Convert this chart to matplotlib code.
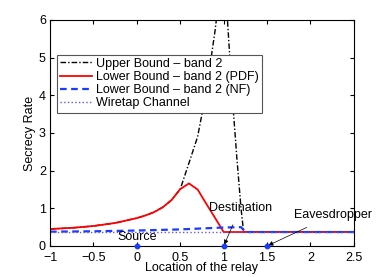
import matplotlib
matplotlib.use("Agg")
import matplotlib.pyplot as plt

plt.rcParams['font.family'] = ['Liberation Sans', 'DejaVu Sans']

# Lower bound (PDF)
x_pdf = [-1.0, -0.75, -0.5, -0.25, 0.0, 0.1, 0.2, 0.3, 0.4, 0.5, 0.6, 0.7, 0.8, 0.9, 1.0, 1.25, 1.5, 2.0, 2.5]
y_pdf = [0.45, 0.48, 0.53, 0.61, 0.74, 0.81, 0.9, 1.03, 1.22, 1.51, 1.66, 1.5, 1.12, 0.75, 0.37, 0.37, 0.37, 0.37, 0.37]

# Upper bound
x_ub = [-1.0, -0.75, -0.5, -0.25, 0.0, 0.1, 0.2, 0.3, 0.4, 0.5, 0.6, 0.7, 0.8, 0.9, 1.0, 1.1, 1.15, 1.2, 1.23, 1.5, 2.0, 2.5]
y_ub = [0.45, 0.48, 0.53, 0.61, 0.74, 0.81, 0.9, 1.03, 1.22, 1.51, 2.2, 2.9, 4.1, 5.7, 7.6, 3.95, 2.4, 1.0, 0.37, 0.37, 0.37, 0.37]

# Lower bound (NF)
x_nf = [-1.0, -0.5, 0.0, 0.5, 0.6, 1.0, 1.2, 1.25, 1.5, 2.0, 2.5]
y_nf = [0.38, 0.39, 0.41, 0.44, 0.45, 0.49, 0.5, 0.37, 0.37, 0.37, 0.37]

# Wiretap channel
x_wt = [-1.0, 2.5]
y_wt = [0.36, 0.36]

# Node positions
node_x = [0, 1, 1.5]
node_y = [0, 0, 0]

fig = plt.figure(figsize=(3.91, 2.77), dpi=100)
ax = fig.add_axes([0.128, 0.112, 0.777, 0.816])

ax.plot(x_ub, y_ub, color='black', linestyle='-.', linewidth=1.0, dashes=(4, 1.5, 1, 1.5), label='Upper Bound \u2013 band 2')
ax.plot(x_pdf, y_pdf, color='red', linestyle='-', linewidth=1.3, label='Lower Bound \u2013 band 2 (PDF)')
ax.plot(x_nf, y_nf, color='#1a3cff', linestyle='--', linewidth=1.6, dashes=(3, 2), label='Lower Bound \u2013 band 2 (NF)')
ax.plot(x_wt, y_wt, color='#6a5acd', linestyle=':', linewidth=1.0, label='Wiretap Channel')
ax.plot(node_x, node_y, 'o', color='#1a3cff', markersize=3.2, clip_on=False, zorder=5)

ax.set_xlim(-1, 2.5)
ax.set_ylim(0, 6)
ax.set_xticks([-1, -0.5, 0, 0.5, 1, 1.5, 2, 2.5])
ax.set_xticklabels(['\u22121', '\u22120.5', '0', '0.5', '1', '1.5', '2', '2.5'])
ax.set_yticks([0, 1, 2, 3, 4, 5, 6])
ax.tick_params(direction='in', top=True, right=True, labelsize=9, length=3)
ax.tick_params(axis='x', pad=4)
ax.tick_params(axis='y', pad=3)
for s in ax.spines.values():
    s.set_linewidth(0.8)

ax.set_xlabel('Location of the relay', fontsize=9, labelpad=-1)
ax.set_ylabel('Secrecy Rate', fontsize=9, labelpad=2)

ax.text(0, 0.24, 'Source', fontsize=9, ha='center', va='center')
ax.annotate('Destination', xy=(1, 0), xytext=(1.19, 1.0), fontsize=9, ha='center', va='center',
            arrowprops=dict(arrowstyle='-|>', color='black', lw=0.5, shrinkA=6, shrinkB=1, mutation_scale=7))
ax.annotate('Eavesdropper', xy=(1.5, 0), xytext=(2.26, 0.82), fontsize=9, ha='center', va='center',
            arrowprops=dict(arrowstyle='-|>', color='black', lw=0.5, shrinkA=6, shrinkB=1, mutation_scale=7))

leg = ax.legend(loc='upper left', bbox_to_anchor=(0.022, 0.847), fontsize=9, fancybox=False,
                framealpha=1, edgecolor='#555555', borderpad=0.25, labelspacing=0.1,
                handlelength=2.6, handletextpad=0.3, borderaxespad=0)
leg.get_frame().set_linewidth(0.8)

fig.savefig('out.png', dpi=100)
